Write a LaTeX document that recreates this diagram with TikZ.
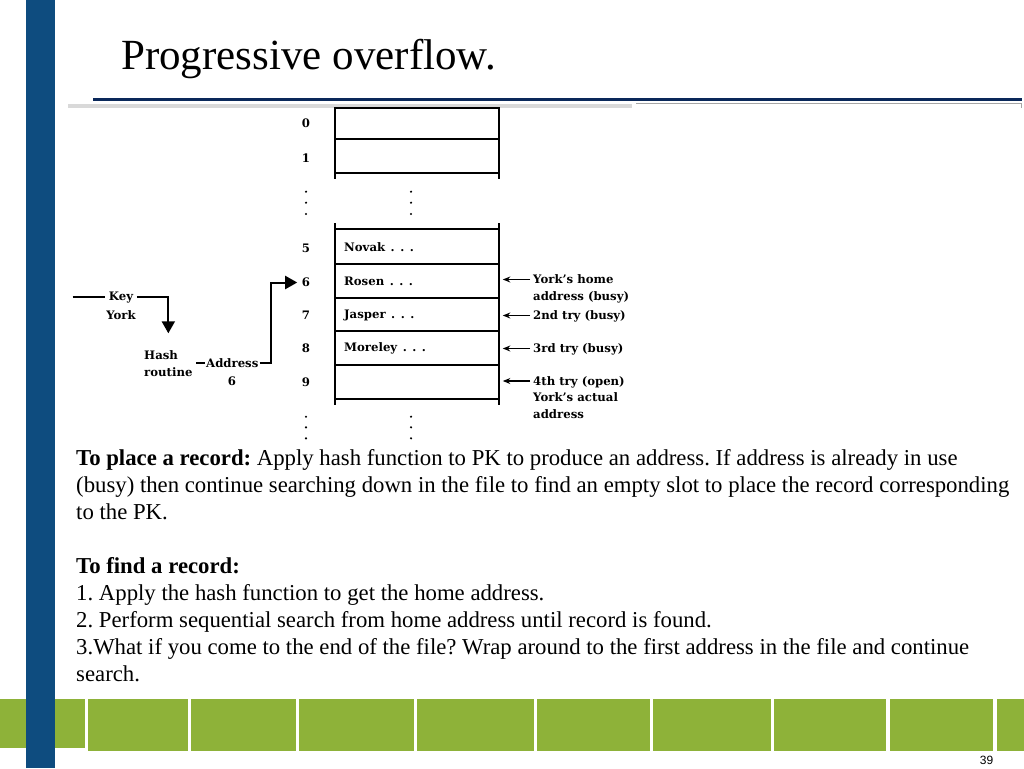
\documentclass[tikz,border=0pt]{standalone}
\usepackage{fontspec}
\setmainfont{Liberation Serif}
\newfontfamily\figfont{DejaVu Serif}
\newfontfamily\pgnumfont{Liberation Sans}
\usetikzlibrary{arrows.meta}
\definecolor{barblue}{RGB}{14,76,127}
\definecolor{navyline}{RGB}{10,40,90}
\definecolor{footgreen}{RGB}{142,178,57}
\frenchspacing
\begin{document}
\begin{tikzpicture}[x=1pt,y=-1pt,
  figtxt/.style={font=\figfont\bfseries\fontsize{11.7}{13}\selectfont, inner sep=0pt, text height=8.5pt, text depth=0pt},
  rowbox/.style={draw, line width=2.3pt, minimum width=164pt, inner sep=0pt, anchor=north west},
  tline/.style={line width=2.3pt},
  rarrow/.style={line width=1.2pt, -{Stealth[length=7.5pt,width=6pt]}},
  fline/.style={line width=2pt},
  farrow/.style={line width=2pt, -{Triangle[width=13pt,length=12pt]}},
  body/.style={font=\fontsize{22.75}{27}\selectfont, anchor=base west, inner sep=0pt},
  dotmark/.style={fill=black}]
\useasboundingbox (0,0) rectangle (1024,768);
\fill[white] (0,0) rectangle (1024,768);

% footer band
\fill[footgreen] (0,699) rectangle (85,748);
\foreach \a/\b in {88/188,191/296,299/414,417/534,537/650,653/771,774/886,890/993,997/1024}
  \fill[footgreen] (\a,699) rectangle (\b,751);

% left bar
\fill[barblue] (26,0) rectangle (55,768);

% title
\node[anchor=base west, inner sep=0pt, font=\fontsize{43}{50}\selectfont] (title) at (121,70) {Progressive overflow.};
\draw[navyline, line width=2.8pt] (93,99.7) -- (1022,99.7);
\fill[black!15] (68,104) rectangle (632,108);
\draw[black!35, line width=0.8pt] (636,103.5) -- (1021.5,103.5) -- (1021.5,108);

% table top part
\node[rowbox, minimum height=31pt] (r0) at (334,107) {};
\node[rowbox, minimum height=34pt] (r1) at (334,138) {};
\draw[tline] (r1.south west) ++(1.15,0) -- ++(0,5);
\draw[tline] (r1.south east) ++(-1.15,0) -- ++(0,5);

% table lower part
\node[rowbox, minimum height=35pt] (r5) at (334,228) {};
\node[rowbox, minimum height=34pt] (r6) at (334,263) {};
\node[rowbox, minimum height=33pt] (r7) at (334,297) {};
\node[rowbox, minimum height=33.5pt] (r8) at (334,330) {};
\node[rowbox, minimum height=34pt] (r9) at (334,363.5) {};
\draw[tline] (r5.north west) ++(1.15,0) -- ++(0,-5.5);
\draw[tline] (r5.north east) ++(-1.15,0) -- ++(0,-5.5);
\draw[tline] (r9.south west) ++(1.15,0) -- ++(0,5);
\draw[tline] (r9.south east) ++(-1.15,0) -- ++(0,5);

% records
\newcommand{\recdots}{\hspace{5.5pt}.\hspace{5.5pt}.\hspace{5.5pt}.}
\node[figtxt, anchor=west] (n5) at (344,247) {Novak\recdots};
\node[figtxt, anchor=west] (n6) at (344,281) {Rosen\recdots};
\node[figtxt, anchor=west] (n7) at (344,314) {Jasper\recdots};
\node[figtxt, anchor=west] (n8) at (344,347) {Moreley\recdots};

% row labels
\node[figtxt] (l0) at (306,123) {0};
\node[figtxt] (l1) at (306,158.5) {1};
\node[figtxt] (l5) at (306,248) {5};
\node[figtxt] (l6) at (306,282.5) {6};
\node[figtxt] (l7) at (306,315.5) {7};
\node[figtxt] (l8) at (306,348.5) {8};
\node[figtxt] (l9) at (306,382) {9};

% dots
\foreach \yy in {191.7,202.7,214,416.7,427.3,438.3} {
  \fill[dotmark] (306,\yy) circle (1.2);
  \fill[dotmark] (411,\yy) circle (1.2);
}

% right side labels
\node[figtxt, anchor=west] (t6a) at (533,279.5) {York’s home};
\node[figtxt, anchor=west] (t6b) at (533,296.5) {address (busy)};
\node[figtxt, anchor=west] (t7) at (533,315.5) {2nd try (busy)};
\node[figtxt, anchor=west] (t8) at (533,348.5) {3rd try (busy)};
\node[figtxt, anchor=west] (t9a) at (533,381) {4th try (open)};
\node[figtxt, anchor=west] (t9b) at (533,397.5) {York’s actual};
\node[figtxt, anchor=west] (t9c) at (533,414) {address};
\draw[rarrow] ([xshift=-3pt]t6a.west) -- ([xshift=2.5pt]r6.east |- t6a.west);
\draw[rarrow] ([xshift=-3pt]t7.west) -- ([xshift=2.5pt]r7.east |- t7.west);
\draw[rarrow] ([xshift=-3pt]t8.west) -- ([xshift=2.5pt]r8.east |- t8.west);
\draw[rarrow] ([xshift=-3pt]t9a.west) -- ([xshift=2.5pt]r9.east |- t9a.west);

% left flow
\coordinate (kin) at (72.7,296.7);
\node[figtxt, inner xsep=3.5pt] (key) at (121,296.7) {Key};
\node[figtxt] (york) at (121,315.7) {York};
\node[font=\figfont\bfseries\fontsize{11.7}{17}\selectfont, align=left, inner sep=0pt, anchor=north west] (hash) at (144,350) {Hash\\routine};
\node[figtxt, inner xsep=1pt] (addr) at (232.3,363.3) {Address};
\node[figtxt] (addr6) at (232,381.7) {6};
\draw[fline] (kin) -- (key.west);
\draw[farrow, shorten >=16.7pt] (key.east) -| (hash.north);
\draw[fline, shorten <=3.5pt] (hash.east |- addr.west) -- (addr.west);
\draw[farrow, shorten >=4.5pt] (addr.east) -- ++(11.5,0) |- (l6.west);

% body text
\node[body] (b1) at (76,465) {\textbf{To place a record:} Apply hash function to PK to produce an address. If address is already in use};
\node[body] (b2) at (76,492) {(busy) then continue searching down in the file to find an empty slot to place the record corresponding};
\node[body] (b3) at (76,519) {to the PK.};
\node[body] (b4) at (76,573) {\textbf{To find a record:}};
\node[body] (b5) at (76,600) {1. Apply the hash function to get the home address.};
\node[body] (b6) at (76,627) {2. Perform sequential search from home address until record is found.};
\node[body] (b7) at (76,654) {3.What if you come to the end of the file? Wrap around to the first address in the file and continue};
\node[body] (b8) at (76,681) {search.};

% page number
\node[anchor=base east, inner sep=0pt, font=\pgnumfont\fontsize{12}{14}\selectfont] (pg) at (993.5,764) {39};
\end{tikzpicture}
\end{document}
